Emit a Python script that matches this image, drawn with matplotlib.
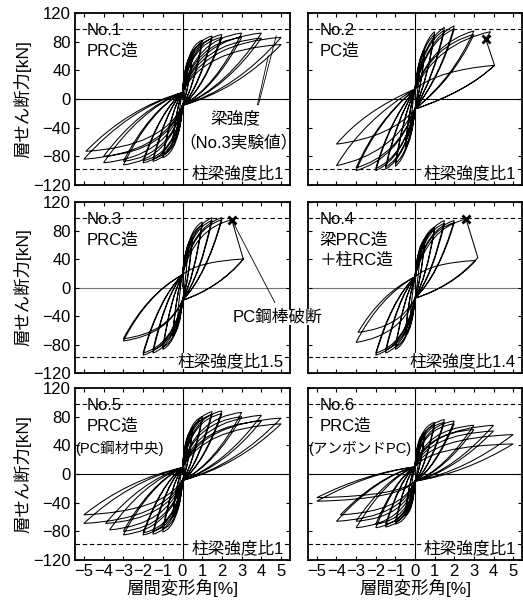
import numpy as np
import matplotlib
matplotlib.use("Agg")
import matplotlib.pyplot as plt
from matplotlib.path import Path
from matplotlib.patches import PathPatch

plt.rcParams['font.family'] = ['Liberation Sans', 'Noto Sans CJK JP', 'DejaVu Sans']
plt.rcParams['axes.unicode_minus'] = True

# --- data: peak points of each cycle (drift %, shear kN) ---
no1_pos_d = [0.25, 0.5, 0.5, 1.0, 1.0, 1.5, 1.5, 2.0, 2.0, 3.0, 3.0, 4.0, 4.0, 5.0, 5.0]
no1_pos_f = [42, 62, 58, 82, 78, 88, 84, 90, 86, 92, 86, 92, 85, 86, 76]
no1_neg_d = [-0.25, -0.5, -0.5, -1.0, -1.0, -1.5, -1.5, -2.0, -2.0, -3.0, -3.0, -4.0, -4.0, -5.0, -4.9]
no1_neg_f = [-40, -60, -57, -82, -78, -87, -84, -89, -86, -92, -87, -89, -80, -84, -73]

no2_pos_d = [0.25, 0.5, 0.5, 1.0, 1.0, 1.5, 1.5, 2.0, 2.0, 3.0, 3.0, 3.85, 4.05]
no2_pos_f = [45, 70, 66, 94, 90, 100, 96, 102, 98, 95, 90, 94, 47]
no2_neg_d = [-0.25, -0.5, -0.5, -1.0, -1.0, -1.5, -1.5, -2.0, -2.0, -3.0, -3.0, -4.0, -4.0]
no2_neg_f = [-45, -70, -66, -94, -90, -98, -95, -100, -97, -100, -96, -93, -63]

no3_pos_d = [0.25, 0.5, 0.5, 1.0, 1.0, 1.5, 1.5, 2.0, 2.0, 2.5, 3.1]
no3_pos_f = [45, 70, 66, 92, 88, 98, 94, 98, 95, 95, 40]
no3_neg_d = [-0.25, -0.5, -0.5, -1.0, -1.0, -1.5, -1.5, -2.0, -2.0, -3.0, -3.0]
no3_neg_f = [-45, -68, -64, -87, -84, -92, -88, -95, -92, -75, -72]

no4_pos_d = [0.25, 0.5, 0.5, 1.0, 1.0, 1.5, 1.5, 2.0, 2.0, 2.6, 3.1]
no4_pos_f = [45, 68, 64, 85, 82, 94, 90, 94, 91, 96, 38]
no4_neg_d = [-0.25, -0.5, -0.5, -1.0, -1.0, -1.5, -1.5, -2.0, -2.0, -3.0, -2.9]
no4_neg_f = [-45, -68, -64, -87, -84, -92, -88, -95, -92, -77, -63]

no5_pos_d = [0.25, 0.5, 0.5, 1.0, 1.0, 1.5, 1.5, 2.0, 2.0, 3.0, 3.0, 4.0, 4.0, 5.0, 5.0]
no5_pos_f = [40, 62, 58, 80, 76, 87, 83, 88, 84, 86, 80, 82, 74, 78, 70]
no5_neg_d = [-0.25, -0.5, -0.5, -1.0, -1.0, -1.5, -1.5, -2.0, -2.0, -3.0, -3.0, -3.7, -3.9, -5.0, -5.0]
no5_neg_f = [-40, -60, -56, -81, -77, -84, -80, -85, -82, -85, -80, -78, -69, -69, -57]

no6_pos_d = [0.25, 0.5, 0.5, 1.0, 1.0, 1.5, 1.5, 2.0, 2.0, 3.0, 3.0, 4.0, 4.0, 5.0, 5.0]
no6_pos_f = [38, 58, 54, 72, 68, 76, 72, 74, 70, 68, 62, 68, 60, 55, 42]
no6_neg_d = [-0.25, -0.5, -0.5, -1.0, -1.0, -1.5, -1.5, -2.0, -2.0, -3.0, -3.0, -4.0, -3.8, -5.0, -5.0]
no6_neg_f = [-38, -58, -54, -70, -66, -74, -70, -75, -70, -75, -66, -66, -57, -38, -33]

# rupture of PC bar (x marks) and drop after it
rupture_d = {2: [3.6], 3: [2.5], 4: [2.6]}
rupture_f = {2: [84], 3: [95], 4: [96]}
drop_pts = {2: (11, [(3.6, 84), (4.05, 47)]), 3: (9, [(3.08, 40)]), 4: (9, [(3.2, 42)])}

names = ["No.1\nPRC造", "No.2\nPC造", "No.3\nPRC造", "No.4\n梁PRC造\n＋柱RC造", "No.5\nPRC造", "No.6\nPRC造"]
ratio_labels = ["柱梁強度比1", "柱梁強度比1", "柱梁強度比1.5", "柱梁強度比1.4", "柱梁強度比1", "柱梁強度比1"]
beam_strength = 97

specimens = {
    1: (no1_pos_d, no1_pos_f, no1_neg_d, no1_neg_f),
    2: (no2_pos_d, no2_pos_f, no2_neg_d, no2_neg_f),
    3: (no3_pos_d, no3_pos_f, no3_neg_d, no3_neg_f),
    4: (no4_pos_d, no4_pos_f, no4_neg_d, no4_neg_f),
    5: (no5_pos_d, no5_pos_f, no5_neg_d, no5_neg_f),
    6: (no6_pos_d, no6_pos_f, no6_neg_d, no6_neg_f),
}
# loop shape: pinch force, loading ctrl (x, y frac), unloading ctrl (x, y frac)
shape = {1: (9, 0.2, 0.9, 0.45, 0.75), 2: (14, 0.3, 0.8, 0.35, 0.6),
         3: (18, 0.25, 0.85, 0.4, 0.7), 4: (15, 0.25, 0.85, 0.4, 0.7),
         5: (9, 0.2, 0.9, 0.45, 0.75), 6: (10, 0.15, 0.9, 0.5, 0.8)}


def loop_path(no):
    pd_, pf, nd, nf = specimens[no]
    f0, lx, ly, ux, uy = shape[no]
    verts = [(0, 0)]
    codes = [Path.MOVETO]
    start = (0, 0)
    for i in range(len(pd_)):
        dp, fp, dn, fn = pd_[i], pf[i], nd[i], nf[i]
        # loading positive
        verts += [(start[0] + lx * (dp - start[0]), start[1] + ly * (fp - start[1])), (dp, fp)]
        codes += [Path.CURVE3, Path.CURVE3]
        a = (dp, fp)
        if no in drop_pts and drop_pts[no][0] == i:
            for p in drop_pts[no][1]:
                verts.append(p)
                codes.append(Path.LINETO)
            a = drop_pts[no][1][-1]
        # unloading positive
        verts += [(a[0] * (1 - ux), a[1] + uy * (-f0 - a[1])), (0, -f0)]
        codes += [Path.CURVE3, Path.CURVE3]
        # loading negative
        verts += [(lx * dn, -f0 + ly * (fn + f0)), (dn, fn)]
        codes += [Path.CURVE3, Path.CURVE3]
        # unloading negative
        verts += [(dn * (1 - ux), fn + uy * (f0 - fn)), (0, f0)]
        codes += [Path.CURVE3, Path.CURVE3]
        start = (0, f0)
    return Path(verts, codes)


fig = plt.figure(figsize=(5.23, 6.07), dpi=100)
W, H = 523, 607
cols = [(75, 215), (308, 214)]
rows = [(13, 185), (202, 373), (388, 560)]
fs = 12

for k in range(6):
    no = k + 1
    r, c = divmod(k, 2)
    x0, w = cols[c]
    top, bot = rows[r]
    ax = fig.add_axes([x0 / W, 1 - bot / H, w / W, (bot - top) / H])
    ax.set_xlim(-5.45, 5.45)
    ax.set_ylim(-120, 120)
    ax.axhline(0, color='0.45' if r == 1 else 'k', lw=0.8, zorder=1)
    ax.axvline(0, color='k', lw=0.8, zorder=1)
    for yv in (beam_strength, -beam_strength):
        ax.axhline(yv, color='k', lw=0.8, ls=(0, (4, 2.5)), zorder=3)
    ax.add_patch(PathPatch(loop_path(no), fill=False, lw=0.75, ec='k', zorder=2))
    if no in rupture_d:
        ax.plot(rupture_d[no], rupture_f[no], 'x', color='k', ms=6, mew=2, zorder=5)

    ax.set_xticks(range(-5, 6))
    ax.set_yticks(range(-120, 121, 40))
    ax.tick_params(direction='in', top=True, right=True, length=3, width=0.8,
                   labelsize=fs, pad=3)
    for s in ax.spines.values():
        s.set_linewidth(1.3)
    if c == 1:
        ax.set_yticklabels([])
    else:
        ax.set_ylabel("層せん断力[kN]", fontsize=12.5, labelpad=1)
    if r < 2:
        ax.set_xticklabels([])
    else:
        ax.set_xlabel("層間変形角[%]", fontsize=12.5, labelpad=0)

    lines = names[k].split("\n")
    ax.text(-4.85, 96, lines[0], fontsize=fs, va='center', ha='left', zorder=2)
    for j, t in enumerate(lines[1:]):
        ax.text(-4.85, 67 - 29 * j, t, fontsize=fs, va='center', ha='left', zorder=2)
    ax.text(5.15, -103, ratio_labels[k], fontsize=fs, ha='right', va='center', zorder=4,
            bbox=dict(fc='white', ec='none', pad=0.3))

    if no == 1:
        ax.text(2.7, -27, "梁強度", fontsize=fs, ha='center', va='center')
        ax.text(2.85, -61, "（No.3実験値）", fontsize=fs, ha='center', va='center', clip_on=False)
        ax.plot([3.8, 4.35], [-8, 60], color='k', lw=0.6)
        ax.plot([3.85, 4.75], [-8, 88], color='k', lw=0.6)
    if no == 3:
        ax.plot([2.5, 4.68], [95, -21], color='k', lw=0.6)
    if no == 5:
        ax.text(-5.45, 36, "(PC鋼材中央)", fontsize=10.5, ha='left', va='center')
    if no == 6:
        ax.text(-5.45, 36, "(アンボンドPC)", fontsize=10.5, ha='left', va='center')

# label spanning panels 3 and 4, drawn on the figure so it sits above both axes
fig.text(277 / W, 1 - 317 / H, "PC鋼棒破断", fontsize=fs, ha='center', va='center',
         zorder=10, bbox=dict(fc='white', ec='none', pad=0.3))

plt.savefig("out.png", dpi=100)
